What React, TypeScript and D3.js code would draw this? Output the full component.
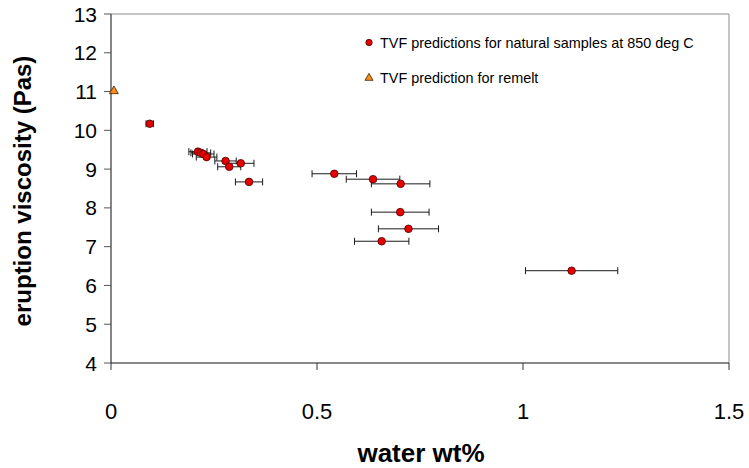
import React from "react";
import * as d3 from "d3";

const waterWt = [0.094, 0.211, 0.218, 0.224, 0.232, 0.278, 0.287, 0.315, 0.335, 0.542, 0.636, 0.703, 0.702, 0.722, 0.657, 1.118];
const viscosity = [10.17, 9.45, 9.42, 9.39, 9.31, 9.21, 9.06, 9.15, 8.67, 8.88, 8.74, 8.62, 7.89, 7.46, 7.14, 6.38];
const waterErr = [0.009, 0.022, 0.024, 0.026, 0.025, 0.026, 0.028, 0.032, 0.033, 0.054, 0.065, 0.071, 0.07, 0.073, 0.066, 0.112];

const remeltWater = [0.007];
const remeltVisc = [11.0];

const xTicks = [0, 0.5, 1, 1.5];
const yTicks = [4, 5, 6, 7, 8, 9, 10, 11, 12, 13];

const legendLabels = [
  "TVF predictions for natural samples at 850 deg C",
  "TVF prediction for remelt",
];

const FONT = "Arial, 'Liberation Sans', sans-serif";

export default function App() {
  const W = 749;
  const H = 468;
  const left = 111;
  const right = 729;
  const top = 14;
  const bottom = 363;

  const x = d3.scaleLinear().domain([0, 1.5]).range([left, right]);
  const y = d3.scaleLinear().domain([4, 13]).range([bottom, top]);

  const tri = d3.symbol().type(d3.symbolTriangle).size(34)();
  const triLegend = d3.symbol().type(d3.symbolTriangle).size(28)();

  return (
    <svg
      width={W}
      height={H}
      style={{ position: "absolute", left: 0, top: 0, background: "#fff" }}
      fontFamily={FONT}
    >
      {/* plot frame: top and right gray */}
      <line x1={left} x2={right} y1={top} y2={top} stroke="#8c8c8c" strokeWidth={1} />
      <line x1={right} x2={right} y1={top} y2={bottom} stroke="#8c8c8c" strokeWidth={1} />

      {/* y axis */}
      <line x1={left} x2={left} y1={top} y2={bottom} stroke="#333" strokeWidth={1.2} />
      {yTicks.map((t) => (
        <g key={"y" + t}>
          <line x1={left - 7} x2={left} y1={y(t)} y2={y(t)} stroke="#555" strokeWidth={1} />
          <text x={97} y={y(t) + 7.5} textAnchor="end" fontSize={21} fill="#000">
            {t}
          </text>
        </g>
      ))}

      {/* x axis */}
      <line x1={left} x2={right} y1={bottom} y2={bottom} stroke="#111" strokeWidth={1.2} />
      {xTicks.map((t) => (
        <g key={"x" + t}>
          <line x1={x(t)} x2={x(t)} y1={bottom} y2={bottom + 7} stroke="#333" strokeWidth={1} />
          <text x={x(t)} y={419} textAnchor="middle" fontSize={22} fill="#000">
            {t}
          </text>
        </g>
      ))}

      {/* axis titles */}
      <text x={421} y={462} textAnchor="middle" fontSize={26} fontWeight="bold" fill="#000">
        water wt%
      </text>
      <text
        transform={`translate(31,191) rotate(-90)`}
        textAnchor="middle"
        fontSize={24}
        fontWeight="bold"
        fill="#000"
      >
        eruption viscosity (Pas)
      </text>

      {/* error bars */}
      {waterWt.map((v, i) => {
        const cy = y(viscosity[i]);
        const x0 = x(v - waterErr[i]);
        const x1 = x(v + waterErr[i]);
        return (
          <g key={"e" + i} stroke="#1a1a1a" strokeWidth={1}>
            <line x1={x0} x2={x1} y1={cy} y2={cy} />
            <line x1={x0} x2={x0} y1={cy - 3.5} y2={cy + 3.5} />
            <line x1={x1} x2={x1} y1={cy - 3.5} y2={cy + 3.5} />
          </g>
        );
      })}

      {/* natural sample points */}
      {waterWt.map((v, i) => (
        <circle
          key={"p" + i}
          cx={x(v)}
          cy={y(viscosity[i])}
          r={3.8}
          fill="#e60000"
          stroke="#4a0000"
          strokeWidth={0.8}
        />
      ))}

      {/* remelt */}
      {remeltWater.map((v, i) => (
        <path
          key={"r" + i}
          d={tri || ""}
          transform={`translate(${x(v)},${y(remeltVisc[i]) - 0.5})`}
          fill="#ff8c1a"
          stroke="#3a2000"
          strokeWidth={0.8}
        />
      ))}

      {/* legend */}
      <circle cx={369} cy={42.5} r={3.2} fill="#e60000" stroke="#4a0000" strokeWidth={0.8} />
      <text x={380} y={48} fontSize={14.4} fill="#000">
        {legendLabels[0]}
      </text>
      <path d={triLegend || ""} transform="translate(369,78)" fill="#ff8c1a" stroke="#3a2000" strokeWidth={0.8} />
      <text x={380} y={83} fontSize={14.4} fill="#000">
        {legendLabels[1]}
      </text>
    </svg>
  );
}
